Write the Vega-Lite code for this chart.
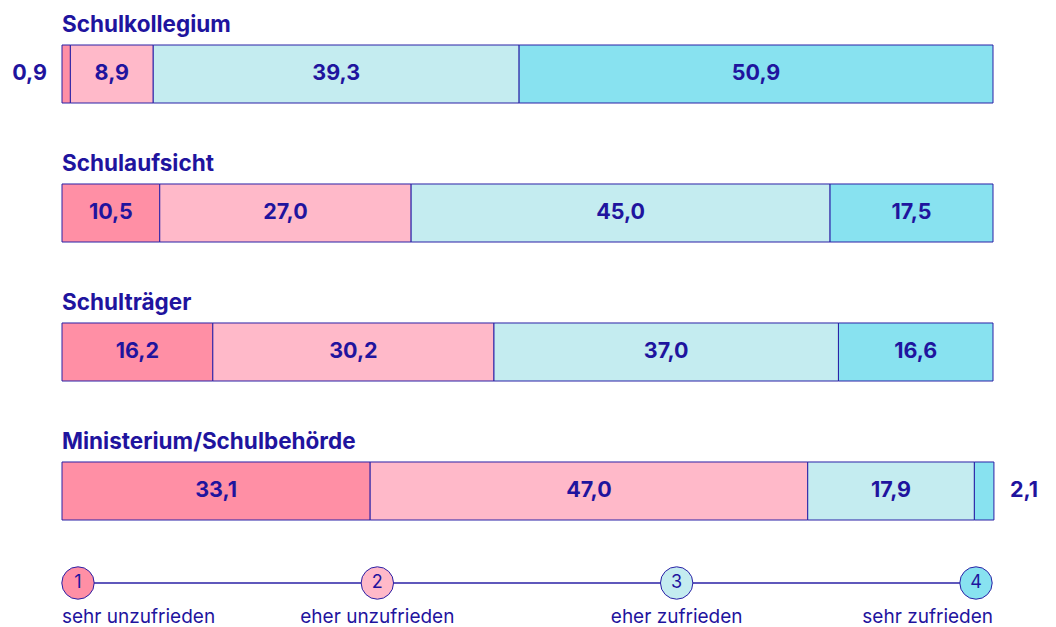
{
  "$schema": "https://vega.github.io/schema/vega-lite/v6.json",
  "width": 1056,
  "height": 627,
  "autosize": {"type": "fit", "contains": "padding"},
  "padding": 0,
  "background": "white",
  "config": {
    "view": {"stroke": null},
    "font": "Inter",
    "locale": {"number": {"decimal": ",", "thousands": ".", "grouping": [3], "currency": ["", " €"]}}
  },
  "datasets": {
    "main": [
      {"group": "Schulkollegium", "cat": 1, "value": 0.9},
      {"group": "Schulkollegium", "cat": 2, "value": 8.9},
      {"group": "Schulkollegium", "cat": 3, "value": 39.3},
      {"group": "Schulkollegium", "cat": 4, "value": 50.9},
      {"group": "Schulaufsicht", "cat": 1, "value": 10.5},
      {"group": "Schulaufsicht", "cat": 2, "value": 27.0},
      {"group": "Schulaufsicht", "cat": 3, "value": 45.0},
      {"group": "Schulaufsicht", "cat": 4, "value": 17.5},
      {"group": "Schulträger", "cat": 1, "value": 16.2},
      {"group": "Schulträger", "cat": 2, "value": 30.2},
      {"group": "Schulträger", "cat": 3, "value": 37.0},
      {"group": "Schulträger", "cat": 4, "value": 16.6},
      {"group": "Ministerium/Schulbehörde", "cat": 1, "value": 33.1},
      {"group": "Ministerium/Schulbehörde", "cat": 2, "value": 47.0},
      {"group": "Ministerium/Schulbehörde", "cat": 3, "value": 17.9},
      {"group": "Ministerium/Schulbehörde", "cat": 4, "value": 2.1}
    ],
    "legend": [
      {"level": 1, "label": "sehr unzufrieden", "row": "Skala"},
      {"level": 2, "label": "eher unzufrieden", "row": "Skala"},
      {"level": 3, "label": "eher zufrieden", "row": "Skala"},
      {"level": 4, "label": "sehr zufrieden", "row": "Skala"}
    ]
  },
  "resolve": {"scale": {"x": "independent", "y": "independent", "color": "independent"}},
  "layer": [
    {
      "data": {"name": "main"},
      "transform": [
        {"stack": "value", "groupby": ["group"], "sort": [{"field": "cat", "order": "ascending"}], "as": ["v0", "v1"]},
        {"calculate": "(datum.v0 + datum.v1) / 2", "as": "mid"}
      ],
      "encoding": {
        "y": {
          "field": "group", "type": "nominal", "axis": null,
          "scale": {"type": "band", "domain": ["Schulkollegium", "Schulaufsicht", "Schulträger", "Ministerium/Schulbehörde"], "range": [45, 520], "paddingInner": 0.5827, "paddingOuter": 0}
        }
      },
      "layer": [
        {
          "mark": {"type": "bar", "stroke": "#2a20a6", "strokeWidth": 1},
          "encoding": {
            "x": {"field": "v0", "type": "quantitative", "axis": null, "scale": {"domain": [0, 100], "range": [62, 993], "nice": false, "zero": false}},
            "x2": {"field": "v1"},
            "color": {"field": "cat", "type": "nominal", "legend": null, "scale": {"domain": [1, 2, 3, 4], "range": ["#ff8fa5", "#ffb9c9", "#c4ecf0", "#88e2f0"]}}
          }
        },
        {
          "transform": [{"filter": "datum.value >= 5"}],
          "mark": {"type": "text", "fontSize": 21.5, "fontWeight": "bold", "color": "#1f149e", "align": "center", "baseline": "middle"},
          "encoding": {
            "x": {"field": "mid", "type": "quantitative"},
            "text": {"field": "value", "type": "quantitative", "format": ".1f"}
          }
        },
        {
          "transform": [{"filter": "datum.value < 5 && datum.cat == 1"}],
          "mark": {"type": "text", "fontSize": 21.5, "fontWeight": "bold", "color": "#1f149e", "align": "right", "baseline": "middle", "dx": -15},
          "encoding": {
            "x": {"field": "v0", "type": "quantitative"},
            "text": {"field": "value", "type": "quantitative", "format": ".1f"}
          }
        },
        {
          "transform": [{"filter": "datum.value < 5 && datum.cat == 4"}],
          "mark": {"type": "text", "fontSize": 21.5, "fontWeight": "bold", "color": "#1f149e", "align": "left", "baseline": "middle", "dx": 16},
          "encoding": {
            "x": {"field": "v1", "type": "quantitative"},
            "text": {"field": "value", "type": "quantitative", "format": ".1f"}
          }
        },
        {
          "transform": [{"filter": "datum.cat == 1"}],
          "mark": {"type": "text", "fontSize": 22.5, "fontWeight": "bold", "color": "#1f149e", "align": "left", "baseline": "alphabetic", "dy": -13},
          "encoding": {
            "x": {"datum": 0, "type": "quantitative"},
            "y": {"field": "group", "type": "nominal", "bandPosition": 0},
            "text": {"field": "group"}
          }
        }
      ]
    },
    {
      "data": {"name": "legend"},
      "encoding": {
        "x": {"field": "level", "type": "quantitative", "axis": null, "scale": {"domain": [1, 4], "range": [78, 976], "nice": false, "zero": false}},
        "y": {"field": "row", "type": "nominal", "axis": null, "scale": {"type": "point", "domain": ["Skala"], "range": [583, 583]}}
      },
      "layer": [
        {"mark": {"type": "line", "color": "#2a20a6", "strokeWidth": 1.5}},
        {
          "mark": {"type": "point", "shape": "circle", "filled": true, "size": 1050, "stroke": "#2a20a6", "strokeWidth": 1, "opacity": 1},
          "encoding": {
            "fill": {"field": "level", "type": "nominal", "legend": null, "scale": {"domain": [1, 2, 3, 4], "range": ["#ff8fa5", "#ffb9c9", "#c4ecf0", "#88e2f0"]}}
          }
        },
        {
          "mark": {"type": "text", "fontSize": 18, "color": "#1f149e", "align": "center", "baseline": "middle"},
          "encoding": {"text": {"field": "level", "type": "nominal"}}
        },
        {
          "transform": [{"filter": "datum.level == 1"}],
          "mark": {"type": "text", "fontSize": 19, "color": "#1f149e", "align": "left", "baseline": "alphabetic", "dy": 40, "dx": -16},
          "encoding": {"text": {"field": "label"}}
        },
        {
          "transform": [{"filter": "datum.level == 2 || datum.level == 3"}],
          "mark": {"type": "text", "fontSize": 19, "color": "#1f149e", "align": "center", "baseline": "alphabetic", "dy": 40},
          "encoding": {"text": {"field": "label"}}
        },
        {
          "transform": [{"filter": "datum.level == 4"}],
          "mark": {"type": "text", "fontSize": 19, "color": "#1f149e", "align": "right", "baseline": "alphabetic", "dy": 40, "dx": 17},
          "encoding": {"text": {"field": "label"}}
        }
      ]
    }
  ]
}
